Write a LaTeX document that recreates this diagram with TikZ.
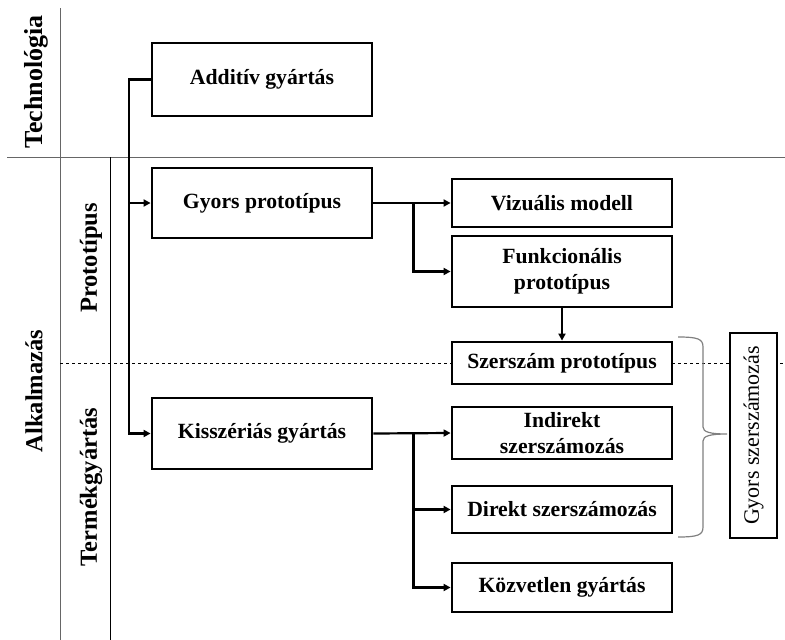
\documentclass[tikz,border=0pt]{standalone}
\usepackage{fontspec}
\setmainfont{Liberation Serif}
\usetikzlibrary{arrows.meta}
\tikzset{
  box/.style={draw, line width=2.8pt, fill=white, minimum width=220pt, inner sep=2pt,
    align=center, font=\fontsize{21.7}{26}\selectfont\bfseries},
  lane/.style={rotate=90, font=\fontsize{24.5}{28}\selectfont\bfseries},
  conn/.style={line width=2.2pt},
  sep/.style={line width=1pt, gray!80!black}
}

\begin{document}
\begin{tikzpicture}[x=1pt, y=-1pt, >={Triangle[length=7pt,width=7pt]}]
\useasboundingbox (0,0) rectangle (785,640);
% lanes
\draw[sep] (60,8) -- (60,640);
\draw[sep] (7,157) -- (785,157);
\draw[line width=0.8pt] (110,157) -- (110,640);
\draw[dashed, line width=0.8pt] (60,363) -- (785,363);
\node[lane, font=\fontsize{26}{30}\selectfont\bfseries] (tech) at (36,82) {Technológia};
\node[lane] (alk) at (34,391) {Alkalmazás};
\node[lane] (proto) at (91,258) {Prototípus};
\node[lane] (termek) at (91,487) {Termékgyártás};
% boxes
\node[box, minimum height=73pt] (additiv) at (262,79.5) {Additív gyártás};
\node[box, minimum height=70pt] (gyors) at (262,203) {Gyors prototípus};
\node[box, minimum height=71pt] (kis) at (262,433.5) {Kisszériás gyártás};
\node[box, minimum height=48pt] (viz) at (562,203) {Vizuális modell};
\node[box, minimum height=71pt] (funk) at (562,271.5) {Funkcionális\\prototípus};
\node[box, minimum height=42pt] (szp) at (562,363) {Szerszám prototípus};
\node[box, minimum height=52pt] (indir) at (562,433) {Indirekt\\szerszámozás};
\node[box, minimum height=47pt] (direkt) at (562,509.5) {Direkt szerszámozás};
\node[box, minimum height=49pt] (kozv) at (562,587.5) {Közvetlen gyártás};
\node[box, rotate=90, minimum width=205pt, minimum height=47pt,
  font=\fontsize{22}{26}\selectfont] (gysz) at (753.5,435.5) {Gyors szerszámozás};
% connectors
\coordinate (trunk) at ([xshift=-22pt]additiv.west);
\draw[conn, ->] (additiv.west) -- (trunk) |- (kis.west);
\draw[conn, ->] (trunk |- gyors.west) -- (gyors.west);
\coordinate (br1) at ([xshift=40pt]gyors.east);
\draw[conn, ->] (gyors.east) -- (viz.west);
\draw[conn, ->] (br1) |- (funk.west);
\draw[conn, ->] (funk) -- (szp);
\coordinate (br2) at ([xshift=40pt]kis.east);
\draw[conn, ->] (kis.east) -- (indir.west);
\draw[conn, ->] (br2) |- (direkt.west);
\draw[conn, ->] (br2) |- (kozv.west);
% brace
\draw[gray, line width=1.2pt] (678,337) .. controls (698,337) and (703,339) .. (703,347)
  -- (703,427) .. controls (703,432) and (710,434) .. (727,434)
  .. controls (710,434) and (703,436) .. (703,441)
  -- (703,527) .. controls (703,535) and (698,537) .. (678,537);
\end{tikzpicture}
\end{document}
